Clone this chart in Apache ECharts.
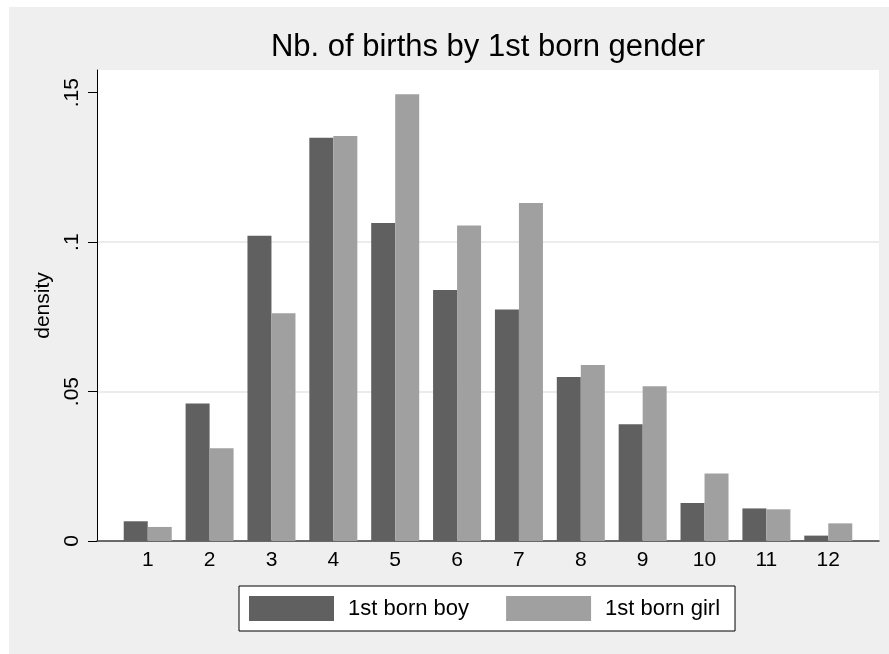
<!DOCTYPE html>
<html>
<head>
<meta charset="utf-8">
<script src="https://cdn.jsdelivr.net/npm/echarts@6/dist/echarts.min.js"></script>
<style>
  html, body { margin: 0; padding: 0; background: #fff; overflow: hidden; }
  #chart { position: absolute; left: 9px; top: 7px; width: 880px; height: 647px; }
</style>
</head>
<body>
<div id="chart"></div>
<script>
// number of births, density by 1st born gender
var births = [1, 2, 3, 4, 5, 6, 7, 8, 9, 10, 11, 12];
var boyDensity = [0.0066, 0.046, 0.1021, 0.1349, 0.1064, 0.084, 0.0775, 0.0549, 0.0391, 0.0127, 0.0109, 0.0018];
var girlDensity = [0.0047, 0.031, 0.0762, 0.1355, 0.1495, 0.1056, 0.1131, 0.0589, 0.0518, 0.0226, 0.0106, 0.0059];
var yTicks = [0, 0.05, 0.1, 0.15];
var yTickLabels = ['0', '.05', '.1', '.15'];

var font = '"Liberation Sans", Arial, sans-serif';

function pairs(values) {
    return births.map(function (b, i) { return [b, values[i]]; });
}

var chart = echarts.init(document.getElementById('chart'));

chart.setOption({
    backgroundColor: '#efefef',
    animation: false,
    title: {
        text: 'Nb. of births by 1st born gender',
        left: 479,
        top: 25,
        padding: 0,
        textAlign: 'center',
        textStyle: { fontFamily: font, fontSize: 31, fontWeight: 'normal', color: '#000' }
    },
    grid: {
        left: 88,
        right: 10,
        top: 63,
        bottom: 113,
        show: true,
        backgroundColor: '#fff',
        borderWidth: 0
    },
    legend: {
        left: 230,
        top: 579,
        orient: 'horizontal',
        icon: 'rect',
        itemWidth: 85,
        itemHeight: 25,
        itemGap: 37,
        padding: [10, 15, 10, 10],
        backgroundColor: '#fff',
        borderColor: '#000',
        borderWidth: 1,
        textStyle: { fontFamily: font, fontSize: 22, color: '#000', padding: [0, 0, 0, 9] },
        data: ['1st born boy', '1st born girl']
    },
    xAxis: {
        type: 'value',
        min: 0.18,
        max: 12.82,
        axisLine: { lineStyle: { color: '#3c3c3c', width: 1.5 } },
        axisTick: { show: false },
        splitLine: { show: false },
        axisLabel: {
            customValues: births,
            margin: 9,
            fontFamily: font,
            fontSize: 21,
            color: '#000'
        }
    },
    yAxis: {
        type: 'value',
        min: 0,
        max: 0.1576,
        name: 'density',
        nameLocation: 'middle',
        nameGap: 42,
        nameTextStyle: { fontFamily: font, fontSize: 21, color: '#000' },
        axisLine: { show: true, lineStyle: { color: '#000', width: 1 } },
        axisTick: { show: true, length: 9, customValues: yTicks, lineStyle: { color: '#000' } },
        axisLabel: {
            customValues: yTicks,
            rotate: 90,
            margin: 14,
            fontFamily: font,
            fontSize: 21,
            color: '#000',
            formatter: function (v) {
                var i = yTicks.indexOf(v);
                return i >= 0 ? yTickLabels[i] : '';
            }
        },
        splitLine: {
            show: true,
            showMinLine: false,
            showMaxLine: false,
            lineStyle: { color: '#e6e6e6', width: 1.5 }
        }
    },
    series: [
        {
            name: '1st born boy',
            type: 'bar',
            barWidth: 24,
            barGap: '0%',
            itemStyle: { color: '#606060' },
            data: pairs(boyDensity)
        },
        {
            name: '1st born girl',
            type: 'bar',
            barWidth: 24,
            barGap: '0%',
            itemStyle: { color: '#a0a0a0' },
            data: pairs(girlDensity)
        }
    ]
});
</script>
</body>
</html>
